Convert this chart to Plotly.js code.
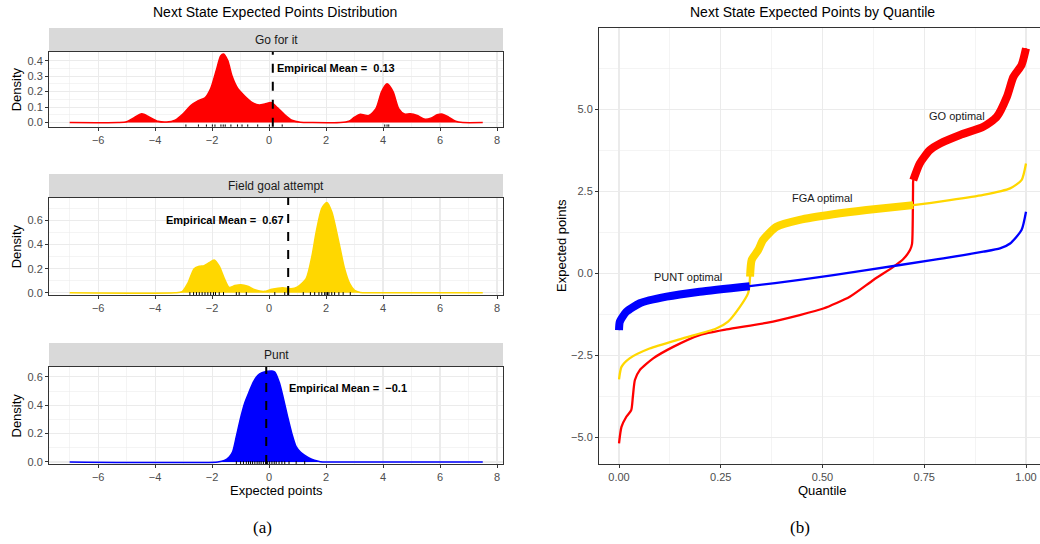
<!DOCTYPE html>
<html>
<head>
<meta charset="utf-8">
<script src="https://cdn.plot.ly/plotly-3.0.1.min.js"></script>
<style>html,body{margin:0;padding:0;background:#fff;}#chart{width:1040px;height:544px;}</style>
</head>
<body>
<div id="chart"></div>
<script>
// ---------- DATA ----------
const panelNames = ["Go for it", "Field goal attempt", "Punt"];
const panelColors = ["#FF0000", "#FFD700", "#0000FF"];
const empiricalMeans = [0.13, 0.67, -0.1];
const meanLabels = ["Empirical Mean = \u00A00.13", "Empirical Mean = \u00A00.67", "Empirical Mean = \u00A0\u22120.1"];

const goX = [-7.0,-5.3,-5.0,-4.75,-4.47,-4.2,-3.9,-3.6,-3.3,-3.0,-2.75,-2.5,-2.25,-2.05,-1.85,-1.7,-1.6,-1.45,-1.3,-1.1,-0.85,-0.6,-0.35,-0.15,0.07,0.3,0.55,0.8,1.1,1.5,2.5,2.8,3.0,3.2,3.5,3.75,3.95,4.14,4.35,4.55,4.75,4.95,5.2,5.47,5.7,5.9,6.09,6.3,6.55,6.8,7.5];
const goD = [0,0,0.005,0.03,0.056,0.035,0.008,0.003,0.015,0.06,0.11,0.14,0.16,0.22,0.34,0.43,0.443,0.40,0.30,0.22,0.17,0.13,0.114,0.12,0.129,0.095,0.05,0.015,0.002,0,0,0.008,0.035,0.054,0.045,0.09,0.20,0.25,0.20,0.09,0.055,0.056,0.045,0.022,0.03,0.05,0.054,0.035,0.008,0,0];

const fgaX = [-7.0,-3.3,-3.05,-2.85,-2.63,-2.45,-2.28,-2.1,-1.93,-1.75,-1.57,-1.4,-1.2,-0.99,-0.75,-0.5,-0.17,0.1,0.48,0.77,1.0,1.3,1.5,1.65,1.85,2.03,2.2,2.48,2.65,2.83,3.0,3.2,3.5,7.5];
const fgaD = [0,0,0.01,0.08,0.20,0.22,0.225,0.25,0.272,0.22,0.118,0.045,0.06,0.067,0.055,0.025,0.012,0.03,0.042,0.034,0.05,0.118,0.30,0.50,0.70,0.748,0.67,0.384,0.20,0.076,0.02,0.003,0,0];

const puntX = [-7.0,-1.8,-1.57,-1.4,-1.28,-1.15,-0.99,-0.85,-0.69,-0.55,-0.4,-0.25,-0.05,0.1,0.2,0.36,0.5,0.65,0.8,0.95,1.1,1.24,1.4,1.59,1.8,2.0,7.5];
const puntD = [0,0,0.01,0.035,0.072,0.18,0.32,0.42,0.50,0.565,0.61,0.63,0.64,0.642,0.635,0.56,0.45,0.32,0.20,0.108,0.07,0.048,0.028,0.012,0.002,0,0];

const goRug = [-2.92,-2.48,-2.2,-1.99,-1.9,-1.69,-1.61,-1.54,-1.34,-1.11,-0.95,-0.75,-0.4,0.01,0.46,4.06,4.14,4.2];
const fgaRug = [-2.78,-2.65,-2.55,-2.45,-2.35,-2.25,-2.15,-2.05,-1.95,-1.88,-1.75,-1.6,-1.15,-1.05,-0.8,0.2,0.55,1.2,1.45,1.6,1.75,1.85,1.95,2.0,2.05,2.1,2.2,2.3,2.45,2.6,2.85];
const puntRug = [-1.15,-1.0,-0.9,-0.8,-0.72,-0.65,-0.58,-0.5,-0.42,-0.35,-0.28,-0.2,-0.12,-0.05,0.02,0.1,0.18,0.25,0.35,0.45,0.55,0.7,0.95,1.25];

// Quantile curves
const goQ = [0,0.006,0.018,0.03,0.034,0.039,0.051,0.084,0.133,0.198,0.264,0.362,0.444,0.502,0.567,0.625,0.674,0.698,0.715,0.72,0.7215,0.722,0.7225,0.723,0.739,0.764,0.789,0.838,0.895,0.928,0.953,0.969,0.989,1.0];
const goY = [-5.18,-4.68,-4.37,-4.17,-3.76,-3.25,-2.95,-2.59,-2.24,-1.88,-1.71,-1.51,-1.27,-1.07,-0.71,-0.20,0.20,0.43,0.71,0.9,1.42,2.0,2.6,2.84,3.35,3.76,3.96,4.22,4.47,4.77,5.38,5.99,6.35,6.86];
const fgaQ = [0,0.006,0.026,0.075,0.157,0.239,0.268,0.297,0.317,0.3205,0.322,0.326,0.342,0.354,0.387,0.444,0.526,0.608,0.723,0.813,0.895,0.961,0.989,1.0];
const fgaY = [-3.23,-2.85,-2.59,-2.29,-1.98,-1.68,-1.47,-1.02,-0.61,-0.35,-0.10,0.41,0.71,1.02,1.42,1.63,1.80,1.93,2.08,2.23,2.39,2.59,2.84,3.35];
const puntQ = [0,0.002,0.018,0.051,0.117,0.198,0.321,0.444,0.608,0.772,0.797,0.895,0.936,0.961,0.989,1.0];
const puntY = [-1.73,-1.47,-1.17,-0.91,-0.71,-0.56,-0.39,-0.20,0.10,0.41,0.46,0.66,0.76,0.91,1.32,1.88];
// quantile range where each option is optimal (thick segment)
const goOptimal = [0.723, 1.0];
const fgaOptimal = [0.322, 0.723];
const puntOptimal = [0.0, 0.321];
const optimalLabels = ["GO optimal", "FGA optimal", "PUNT optimal"];
const optimalLabelPos = [[0.83, 4.8], [0.50, 2.29], [0.17, -0.10]];

// ---------- LAYOUT GEOMETRY ----------
const W = 1040, H = 544;
const fx = p => p / W;
const fy = p => 1 - p / H;
const font = "Liberation Sans, Arial, sans-serif";
const tickFont = {family: font, size: 11, color: "#4D4D4D"};

const leftDom = [fx(49), fx(503)];
const panelY = [[52, 126.7], [197.7, 295], [367, 464]];
const stripY = [[28, 52], [174, 197.7], [343, 367]];
const yRanges = [[-0.027, 0.456], [-0.018, 0.787], [-0.0144, 0.67]];
const yDticks = [0.1, 0.2, 0.2];

const densX = [goX, fgaX, puntX];
const densD = [goD, fgaD, puntD];
const rugs = [goRug, fgaRug, puntRug];

const traces = [];
const shapes = [];
const annotations = [];
const layout = {
  width: W, height: H, autosize: false,
  margin: {l: 0, r: 0, t: 0, b: 0},
  paper_bgcolor: "#fff", plot_bgcolor: "#fff",
  showlegend: false,
  font: {family: font}
};

const suffix = i => (i === 0 ? "" : String(i + 1));

for (let i = 0; i < 3; i++) {
  const s = suffix(i);
  traces.push({
    x: densX[i], y: densD[i], xaxis: "x" + s, yaxis: "y" + s,
    type: "scatter", mode: "lines", fill: "tozeroy",
    fillcolor: panelColors[i],
    line: {color: panelColors[i], width: 1.5, shape: "spline", smoothing: 0.7},
    hoverinfo: "skip"
  });
  layout["xaxis" + s] = {
    domain: leftDom, anchor: "y" + s, range: [-7.725, 8.21],
    tickmode: "linear", tick0: -6, dtick: 2,
    showgrid: true, gridcolor: "#EBEBEB", gridwidth: 1.1,
    minor: {tick0: -7, dtick: 2, showgrid: true, gridcolor: "#EBEBEB", gridwidth: 0.55, ticklen: 0},
    zeroline: false, showline: true, linecolor: "#333333", linewidth: 1, mirror: true,
    ticks: "outside", ticklen: 3, tickcolor: "#333333", tickfont: tickFont
  };
  layout["yaxis" + s] = {
    domain: [fy(panelY[i][1]), fy(panelY[i][0])], anchor: "x" + s, range: yRanges[i],
    tickmode: "linear", tick0: 0, dtick: yDticks[i], tickformat: ".1f",
    showgrid: true, gridcolor: "#EBEBEB", gridwidth: 1.1,
    minor: {tick0: yDticks[i] / 2, dtick: yDticks[i], showgrid: true, gridcolor: "#EBEBEB", gridwidth: 0.55, ticklen: 0},
    zeroline: false, showline: true, linecolor: "#333333", linewidth: 1, mirror: true,
    ticks: "outside", ticklen: 3, tickcolor: "#333333", tickfont: tickFont
  };
  // strip
  shapes.push({type: "rect", xref: "paper", yref: "paper", x0: leftDom[0], x1: leftDom[1],
    y0: fy(stripY[i][1]), y1: fy(stripY[i][0]), fillcolor: "#D9D9D9", line: {width: 0}, layer: "below"});
  annotations.push({xref: "paper", yref: "paper", x: (leftDom[0] + leftDom[1]) / 2,
    y: fy((stripY[i][0] + stripY[i][1]) / 2), text: panelNames[i], showarrow: false,
    font: {family: font, size: 12, color: "#1A1A1A"}, xanchor: "center", yanchor: "middle"});
  // rug
  rugs[i].forEach(v => shapes.push({type: "line", xref: "x" + s, yref: "y" + s + " domain",
    x0: v, x1: v, y0: 0, y1: 0.03, line: {color: "#000", width: 1}, layer: "above"}));
  // mean line
  shapes.push({type: "line", xref: "x" + s, yref: "y" + s + " domain", x0: empiricalMeans[i], x1: empiricalMeans[i],
    y0: 0, y1: 1, line: {color: "#000", width: 2, dash: "dash"}, layer: "above"});
  // Density title
  annotations.push({xref: "paper", yref: "paper", x: fx(16), y: fy((panelY[i][0] + panelY[i][1]) / 2),
    text: "Density", textangle: -90, showarrow: false, font: {family: font, size: 13, color: "#000"},
    xanchor: "center", yanchor: "middle"});
}
// mean labels
annotations.push({xref: "x", yref: "y", x: 0.2, y: 0.35, text: meanLabels[0], showarrow: false,
  xanchor: "left", yanchor: "middle", font: {family: font, size: 11, color: "#000", weight: "bold"}});
annotations.push({xref: "x2", yref: "y2", x: 0.6, y: 0.6, text: meanLabels[1], showarrow: false,
  xanchor: "right", yanchor: "middle", font: {family: font, size: 11, color: "#000", weight: "bold"}});
annotations.push({xref: "x3", yref: "y3", x: 0.62, y: 0.52, text: meanLabels[2], showarrow: false,
  xanchor: "left", yanchor: "middle", font: {family: font, size: 11, color: "#000", weight: "bold"}});

// ---------- RIGHT PANEL ----------
const qCurves = [[goQ, goY, goOptimal], [fgaQ, fgaY, fgaOptimal], [puntQ, puntY, puntOptimal]];
qCurves.forEach((c, i) => {
  traces.push({x: c[0], y: c[1], xaxis: "x4", yaxis: "y4", type: "scatter", mode: "lines",
    line: {color: panelColors[i], width: 2.3, shape: "spline", smoothing: 0.6}, hoverinfo: "skip"});
});
qCurves.forEach((c, i) => {
  const xs = [], ys = [];
  c[0].forEach((q, k) => { if (q >= c[2][0] - 1e-9 && q <= c[2][1] + 1e-9) { xs.push(q); ys.push(c[1][k]); } });
  traces.push({x: xs, y: ys, xaxis: "x4", yaxis: "y4", type: "scatter", mode: "lines",
    line: {color: panelColors[i], width: 8, shape: "spline", smoothing: 0.6}, hoverinfo: "skip"});
  annotations.push({xref: "x4", yref: "y4", x: optimalLabelPos[i][0], y: optimalLabelPos[i][1],
    text: optimalLabels[i], showarrow: false, xanchor: "center", yanchor: "middle",
    font: {family: font, size: 11, color: "#1A1A1A"}});
});
layout.xaxis4 = {
  domain: [fx(599), 1], anchor: "y4", range: [-0.0492, 1.0344],
  tickmode: "linear", tick0: 0, dtick: 0.25, tickformat: ".2f",
  showgrid: true, gridcolor: "#EBEBEB", gridwidth: 1.1,
  minor: {tick0: 0.125, dtick: 0.25, showgrid: true, gridcolor: "#EBEBEB", gridwidth: 0.55, ticklen: 0},
  zeroline: false, showline: true, linecolor: "#333333", linewidth: 1, mirror: true,
  ticks: "outside", ticklen: 3, tickcolor: "#333333", tickfont: tickFont
};
layout.yaxis4 = {
  domain: [fy(464), fy(28.3)], anchor: "x4", range: [-5.81, 7.47],
  tickmode: "linear", tick0: 0, dtick: 2.5, tickformat: ".1f",
  showgrid: true, gridcolor: "#EBEBEB", gridwidth: 1.1,
  minor: {tick0: 1.25, dtick: 2.5, showgrid: true, gridcolor: "#EBEBEB", gridwidth: 0.55, ticklen: 0},
  zeroline: false, showline: true, linecolor: "#333333", linewidth: 1, mirror: true,
  ticks: "outside", ticklen: 3, tickcolor: "#333333", tickfont: tickFont
};

// ---------- TITLES ----------
const titleFont = {family: font, size: 14, color: "#000"};
annotations.push({xref: "paper", yref: "paper", x: fx(275), y: fy(12), text: "Next State Expected Points Distribution",
  showarrow: false, xanchor: "center", yanchor: "middle", font: titleFont});
annotations.push({xref: "paper", yref: "paper", x: fx(812), y: fy(12), text: "Next State Expected Points by Quantile",
  showarrow: false, xanchor: "center", yanchor: "middle", font: titleFont});
annotations.push({xref: "paper", yref: "paper", x: fx(276), y: fy(490), text: "Expected points",
  showarrow: false, xanchor: "center", yanchor: "middle", font: {family: font, size: 13, color: "#000"}});
annotations.push({xref: "paper", yref: "paper", x: fx(822), y: fy(490), text: "Quantile",
  showarrow: false, xanchor: "center", yanchor: "middle", font: {family: font, size: 13, color: "#000"}});
annotations.push({xref: "paper", yref: "paper", x: fx(562), y: fy(246), text: "Expected points", textangle: -90,
  showarrow: false, xanchor: "center", yanchor: "middle", font: {family: font, size: 13, color: "#000"}});
annotations.push({xref: "paper", yref: "paper", x: fx(262), y: fy(527), text: "(a)",
  showarrow: false, xanchor: "center", yanchor: "middle", font: {family: "Liberation Serif, Times New Roman, serif", size: 17, color: "#000"}});
annotations.push({xref: "paper", yref: "paper", x: fx(800), y: fy(527), text: "(b)",
  showarrow: false, xanchor: "center", yanchor: "middle", font: {family: "Liberation Serif, Times New Roman, serif", size: 17, color: "#000"}});

layout.shapes = shapes;
layout.annotations = annotations;

Plotly.newPlot("chart", traces, layout, {staticPlot: true, displayModeBar: false});
</script>
</body>
</html>
